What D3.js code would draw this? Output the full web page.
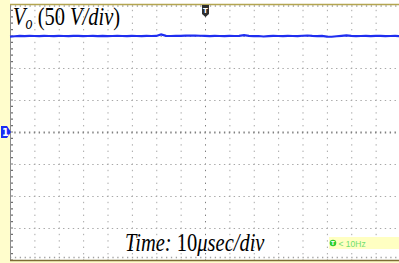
<!DOCTYPE html>
<html>
<head>
<meta charset="utf-8">
<script src="https://cdn.jsdelivr.net/npm/d3@7"></script>
<style>
  body { margin: 0; background: #fff; }
  svg { display: block; }
</style>
</head>
<body>
<div id="scope"></div>
<script>
// time axis in usec, 10 usec/div
const timeTicks = [-80, -70, -60, -50, -40, -30, -20, -10, 0, 10, 20, 30, 40, 50, 60, 70, 80];
// volt axis, 50 V/div
const voltTicks = [-200, -150, -100, -50, 0, 50, 100, 150, 200];

// sampled trace, one point every 2 usec
const sampleTimes = d3.range(-80, 81, 2);
const voltsVo = [
  148.9, 149.6, 150.1, 149.9, 150.1, 150.0, 149.8, 150.2, 150.0, 149.8,
  150.1, 150.0, 149.9, 150.1, 150.3, 149.8, 150.0, 150.2, 149.9, 150.1,
  149.8, 150.0, 150.2, 150.0, 149.9, 150.1, 150.0, 149.8, 150.1, 150.0,
  150.1, 152.6, 150.2, 150.0, 150.1, 150.3, 150.7, 150.6, 150.8, 150.4,
  150.1, 149.9, 150.1, 150.0, 149.8, 150.1, 150.0, 150.2, 151.2, 150.1,
  149.9, 150.0, 149.2, 149.8, 150.1, 150.0, 149.8, 150.1, 150.0, 149.9,
  150.4, 150.8, 150.1, 149.9, 150.1, 149.0, 148.8, 149.6, 150.3, 150.9,
  150.1, 149.8, 150.0, 150.1, 149.9, 150.1, 150.2, 149.8, 150.0, 150.1,
  149.9
];

const titleLabel = "V|o| (50 |V/div|)";
const timeLabel = ["Time: ", "10", "\u03bcsec/div"];
const triggerLabel = "< 10Hz";

class ScopeShot
{
    constructor(_config)
    {
        this.config =
        {
            parentElement: _config.parentElement,
            containerWidth: _config.containerWidth || 399,
            containerHeight: _config.containerHeight || 263,
            plot: {left: 10, right: 400, top: 4, bottom: 260}
        }
        this.initScope();
    }

    initScope()
    {
        let vis = this;
        let p = vis.config.plot;

        vis.svg = d3.select(vis.config.parentElement).append('svg')
            .attr('width', vis.config.containerWidth)
            .attr('height', vis.config.containerHeight);

        vis.x = d3.scaleLinear().domain([-80, 80]).range([p.left, p.right]);
        vis.y = d3.scaleLinear().domain([-200, 200]).range([p.bottom, p.top]);

        // yellow frame bits
        vis.svg.append('rect').attr('x', 0).attr('y', 0)
            .attr('width', p.left).attr('height', vis.config.containerHeight)
            .attr('fill', '#fffdcc');
        vis.svg.append('rect').attr('x', 0).attr('y', p.bottom)
            .attr('width', vis.config.containerWidth).attr('height', 5)
            .attr('fill', '#fffdcc');

        vis.drawGrid();
        vis.drawTrace();
        vis.drawMarkers();
        vis.drawLabels();
    }

    drawGrid()
    {
        let vis = this;
        let p = vis.config.plot;
        let g = vis.svg.append('g');
        let hStep = vis.x(2) - vis.x(0);     // minor step in px
        let vStep = vis.y(0) - vis.y(10);

        g.selectAll('.vgrid')
            .data(timeTicks.slice(1, -1))
            .join('line')
            .attr('x1', d => vis.x(d) + 0.5).attr('x2', d => vis.x(d) + 0.5)
            .attr('y1', p.top).attr('y2', p.bottom)
            .attr('stroke', d => d === 0 ? '#808080' : '#a8a8a8')
            .attr('stroke-width', 1)
            .attr('stroke-dasharray', `1.4,${vStep - 1.4}`)
            .attr('stroke-dashoffset', -vStep + 0.6);

        g.selectAll('.hgrid')
            .data(voltTicks.slice(1, -1))
            .join('line')
            .attr('x1', p.left).attr('x2', p.right)
            .attr('y1', d => vis.y(d) + 0.5).attr('y2', d => vis.y(d) + 0.5)
            .attr('stroke', d => d === 0 ? '#808080' : '#a8a8a8')
            .attr('stroke-width', d => d === 0 ? 2 : 1)
            .attr('stroke-dasharray', `1.4,${hStep - 1.4}`)
            .attr('stroke-dashoffset', -hStep + 0.6);

        // minor ticks along the frame
        g.append('line')
            .attr('x1', p.left).attr('x2', p.right)
            .attr('y1', p.top + 2).attr('y2', p.top + 2)
            .attr('stroke', '#a0a0a0').attr('stroke-width', 1.5)
            .attr('stroke-dasharray', `1.3,${hStep - 1.3}`);
        g.append('line')
            .attr('x1', p.left).attr('x2', p.right)
            .attr('y1', p.bottom - 2.5).attr('y2', p.bottom - 2.5)
            .attr('stroke', '#a0a0a0').attr('stroke-width', 1.5)
            .attr('stroke-dasharray', `1.3,${hStep - 1.3}`);
        g.append('line')
            .attr('x1', p.left + 2).attr('x2', p.left + 2)
            .attr('y1', p.top).attr('y2', p.bottom)
            .attr('stroke', '#707070').attr('stroke-width', 2)
            .attr('stroke-dasharray', `1.2,${vStep - 1.2}`)
            .attr('stroke-dashoffset', -vStep + 0.6);

        // frame lines
        g.append('line')
            .attr('x1', p.left + 0.5).attr('x2', p.left + 0.5)
            .attr('y1', p.top).attr('y2', p.bottom)
            .attr('stroke', '#8c8c8c').attr('stroke-width', 1);
        g.append('line')
            .attr('x1', p.left).attr('x2', p.right)
            .attr('y1', p.top + 0.5).attr('y2', p.top + 0.5)
            .attr('stroke', '#b3a550').attr('stroke-width', 1.3);
        g.append('line')
            .attr('x1', p.left).attr('x2', p.right)
            .attr('y1', p.bottom + 0.5).attr('y2', p.bottom + 0.5)
            .attr('stroke', '#7d6d35').attr('stroke-width', 1.5);
    }

    drawTrace()
    {
        let vis = this;
        let pts = sampleTimes.map((t, i) => [t, voltsVo[i]]);
        let line = d3.line()
            .x(d => vis.x(d[0]))
            .y(d => vis.y(d[1]));

        vis.svg.append('path')
            .datum(pts)
            .attr('d', line)
            .attr('fill', 'none')
            .attr('stroke', '#1f2ef0')
            .attr('stroke-width', 2.2);
    }

    drawMarkers()
    {
        let vis = this;
        let p = vis.config.plot;

        // channel 1 ground marker
        let gy = vis.y(0);
        vis.svg.append('path')
            .attr('d', `M1,${gy - 6} L7,${gy - 6} L11,${gy} L7,${gy + 6} L1,${gy + 6} Z`)
            .attr('fill', '#1a2cf5');
        vis.svg.append('text')
            .attr('x', 5.5).attr('y', gy + 4)
            .attr('text-anchor', 'middle')
            .attr('font-family', 'DejaVu Sans').attr('font-weight', 'bold')
            .attr('font-size', 10).attr('fill', '#fff')
            .text('1');

        // trigger position marker
        let tx = vis.x(0) + 0.5;
        vis.svg.append('path')
            .attr('d', `M${tx - 3.5},${p.top + 1} L${tx + 3.5},${p.top + 1} L${tx + 3.5},${p.top + 10} L${tx},${p.top + 13} L${tx - 3.5},${p.top + 10} Z`)
            .attr('fill', '#2e2e2e');
        vis.svg.append('text')
            .attr('x', tx).attr('y', p.top + 9)
            .attr('text-anchor', 'middle')
            .attr('font-family', 'DejaVu Sans').attr('font-weight', 'bold')
            .attr('font-size', 7).attr('fill', '#fff')
            .text('T');

        // trigger frequency readout
        vis.svg.append('rect')
            .attr('x', 329).attr('y', 237).attr('width', 70).attr('height', 12)
            .attr('fill', '#ffffc2');
        vis.svg.append('circle')
            .attr('cx', 333).attr('cy', 243).attr('r', 3.3)
            .attr('fill', '#2fcf2f');
        vis.svg.append('text')
            .attr('x', 333).attr('y', 245.3)
            .attr('text-anchor', 'middle')
            .attr('font-family', 'DejaVu Sans').attr('font-weight', 'bold')
            .attr('font-size', 5.5).attr('fill', '#fff')
            .text('T');
        vis.svg.append('text')
            .attr('x', 338.5).attr('y', 246.5)
            .attr('font-family', 'Liberation Sans Narrow, Liberation Sans')
            .attr('font-size', 8.5).attr('fill', '#6ee06e')
            .text(triggerLabel);
    }

    drawLabels()
    {
        let vis = this;

        let title = vis.svg.append('text')
            .attr('transform', 'translate(13,25) scale(1,1.28)')
            .attr('font-family', 'Liberation Serif')
            .attr('font-size', 20.5).attr('fill', '#000');
        let parts = titleLabel.split('|');
        title.append('tspan').attr('font-style', 'italic').text(parts[0]);
        title.append('tspan').attr('font-style', 'italic')
            .attr('font-size', 14).attr('dy', 3).text(parts[1]);
        title.append('tspan').attr('dy', -3).text(parts[2]);
        title.append('tspan').attr('font-style', 'italic').text(parts[3]);
        title.append('tspan').text(parts[4]);

        let time = vis.svg.append('text')
            .attr('transform', 'translate(125,251) scale(1,1.28)')
            .attr('font-family', 'Liberation Serif')
            .attr('font-size', 20.5).attr('fill', '#000');
        time.append('tspan').attr('font-style', 'italic').text(timeLabel[0]);
        time.append('tspan').text(timeLabel[1]);
        time.append('tspan').attr('font-style', 'italic').text(timeLabel[2]);
    }
}

new ScopeShot({parentElement: '#scope'});
</script>
</body>
</html>
